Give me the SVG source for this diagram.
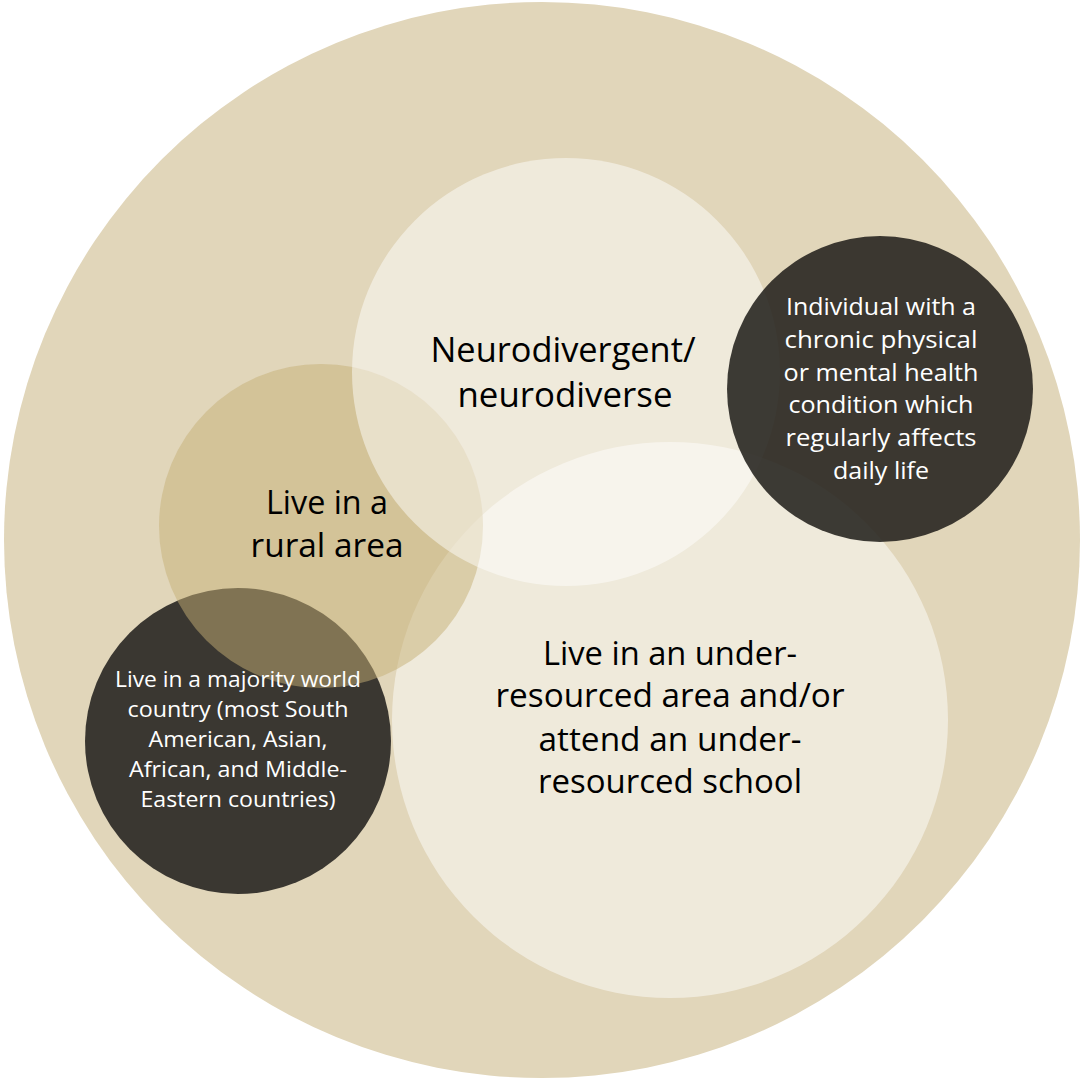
<svg xmlns="http://www.w3.org/2000/svg" width="1080" height="1080" viewBox="0 0 1080 1080">
<style>
.big{font-family:"Open Sans","Liberation Sans",sans-serif;fill:#000000;text-anchor:middle}
.small{font-family:"Open Sans","Liberation Sans",sans-serif;fill:#FFFFFF;text-anchor:middle}
.light{fill:#FFFFFF;fill-opacity:0.48}
.dark{fill:#3A3731}
.tan{fill:#C6B076;fill-opacity:0.5}
</style>
<rect width="1080" height="1080" fill="#FFFFFF"/>
<g id="all-students">
<circle cx="542" cy="540" r="538" fill="#E1D6BA"/>
</g>
<g id="under-resourced">
<circle class="light" cx="670" cy="720" r="278"/>
</g>
<g id="majority-world">
<circle class="dark" cx="238" cy="741" r="153"/>
</g>
<g id="rural">
<circle class="tan" cx="321" cy="526" r="162"/>
</g>
<g id="neurodivergent">
<circle class="light" cx="566" cy="372" r="214"/>
</g>
<g id="chronic">
<circle cx="880" cy="389" r="153" fill="#23211D" fill-opacity="0.88"/>
</g>
<g id="labels-big" font-size="32">
<text class="big" font-size="34" x="563" y="362" textLength="265" lengthAdjust="spacingAndGlyphs">Neurodivergent/</text>
<text class="big" font-size="34" x="565" y="407" textLength="215" lengthAdjust="spacingAndGlyphs">neurodiverse</text>
<text class="big" x="327" y="514" textLength="122" lengthAdjust="spacingAndGlyphs">Live in a</text>
<text class="big" x="327" y="557" textLength="153" lengthAdjust="spacingAndGlyphs">rural area</text>
<text class="big" x="670" y="665" textLength="254" lengthAdjust="spacingAndGlyphs">Live in an under-</text>
<text class="big" x="670" y="707" textLength="349" lengthAdjust="spacingAndGlyphs">resourced area and/or</text>
<text class="big" x="670" y="751" textLength="263" lengthAdjust="spacingAndGlyphs">attend an under-</text>
<text class="big" x="670" y="793" textLength="264" lengthAdjust="spacingAndGlyphs">resourced school</text>
</g>
<g id="labels-chronic" font-size="23">
<text class="small" x="881" y="315" textLength="190" lengthAdjust="spacingAndGlyphs">Individual with a</text>
<text class="small" x="881" y="348" textLength="193" lengthAdjust="spacingAndGlyphs">chronic physical</text>
<text class="small" x="881" y="381" textLength="195" lengthAdjust="spacingAndGlyphs">or mental health</text>
<text class="small" x="881" y="413" textLength="185" lengthAdjust="spacingAndGlyphs">condition which</text>
<text class="small" x="881" y="446" textLength="191" lengthAdjust="spacingAndGlyphs">regularly affects</text>
<text class="small" x="881" y="479" textLength="96" lengthAdjust="spacingAndGlyphs">daily life</text>
</g>
<g id="labels-majority" font-size="21">
<text class="small" x="238" y="687" textLength="246" lengthAdjust="spacingAndGlyphs">Live in a majority world</text>
<text class="small" x="238" y="717" textLength="221" lengthAdjust="spacingAndGlyphs">country (most South</text>
<text class="small" x="238" y="747" textLength="179" lengthAdjust="spacingAndGlyphs">American, Asian,</text>
<text class="small" x="238" y="777" textLength="218" lengthAdjust="spacingAndGlyphs">African, and Middle-</text>
<text class="small" x="238" y="807" textLength="195" lengthAdjust="spacingAndGlyphs">Eastern countries)</text>
</g>
</svg>
